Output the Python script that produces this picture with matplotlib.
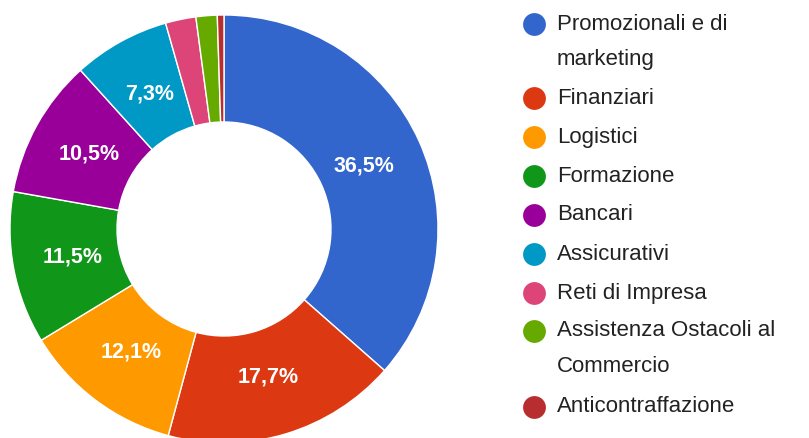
import numpy as np
import matplotlib
matplotlib.use('Agg')
import matplotlib.pyplot as plt

plt.rcParams['font.family'] = ['Liberation Sans', 'DejaVu Sans']

labels = ['Promozionali e di\nmarketing', 'Finanziari', 'Logistici', 'Formazione',
          'Bancari', 'Assicurativi', 'Reti di Impresa',
          'Assistenza Ostacoli al\nCommercio', 'Anticontraffazione']
values = [36.5, 17.7, 12.1, 11.5, 10.5, 7.3, 2.3, 1.6, 0.5]
colors = ['#3366cc', '#dc3912', '#ff9900', '#109618', '#990099',
          '#0099c6', '#dd4477', '#66aa00', '#b82e2e']

W, H = 809, 438
fig = plt.figure(figsize=(W / 100, H / 100), dpi=100)

# pie: centre (224, 229) px, radius 214 px (bottom slightly clipped like the reference)
cx, cy, r = 224, 229, 214
ax = fig.add_axes([(cx - r) / W, (H - cy - r) / H, 2 * r / W, 2 * r / H])

def fmt(p):
    return ('%.1f%%' % p).replace('.', ',') if p >= 5 else ''

wedges, texts, autotexts = ax.pie(values, colors=colors, startangle=90,
                                  counterclock=False, radius=1,
                                  autopct=fmt, pctdistance=0.72,
                                  wedgeprops=dict(width=0.5, edgecolor='white', linewidth=1))
for t in autotexts:
    t.set_color('white')
    t.set_fontsize(15.5)
    t.set_fontweight('bold')
ax.set_xlim(-1, 1)
ax.set_ylim(-1, 1)
ax.set_aspect('equal')

# legend
lax = fig.add_axes([0, 0, 1, 1])
lax.set_xlim(0, W)
lax.set_ylim(H, 0)
lax.axis('off')
rows = [24, 98, 137, 176, 215, 254, 293, 331, 407]
for y, lab, c in zip(rows, labels, colors):
    lax.scatter([534], [y], s=270, color=c, zorder=3, linewidths=0)
    for i, line in enumerate(lab.split('\n')):
        lax.text(557, y + i * 36, line, fontsize=16, color='#222222', va='center')

fig.savefig('out.png', dpi=100)
